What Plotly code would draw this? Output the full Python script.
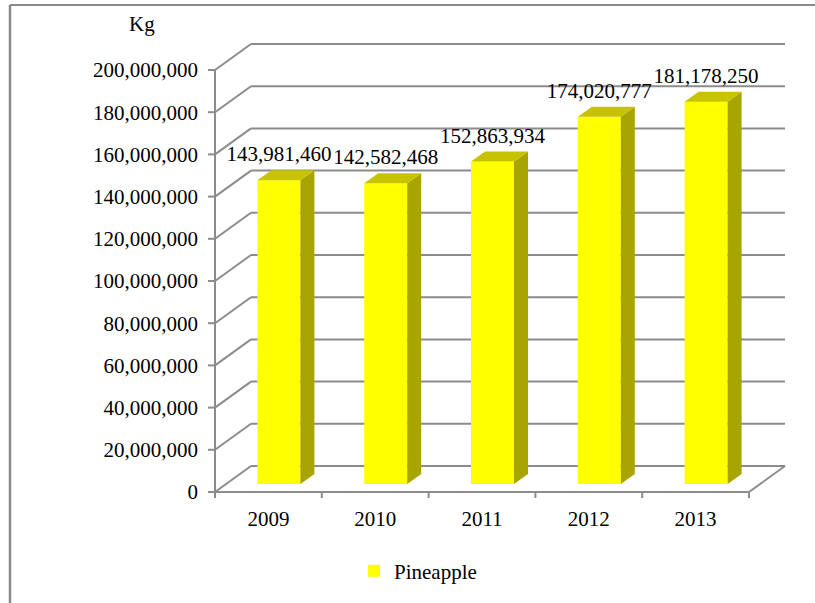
import plotly.graph_objects as go

# ---------------- data ----------------
years = ["2009", "2010", "2011", "2012", "2013"]
values = [143981460, 142582468, 152863934, 174020777, 181178250]
y_ticks = [0, 20000000, 40000000, 60000000, 80000000, 100000000,
           120000000, 140000000, 160000000, 180000000, 200000000]
series_name = "Pineapple"
unit_label = "Kg"

# ---------------- style / geometry ----------------
W, H = 815, 603
FONT = "Liberation Serif, Times New Roman, serif"
FS = 21
FRONT = "#FFFF00"
TOP = "#C8C300"
SIDE = "#A8A400"
GRID = "#8C8C8C"

ML, MR, MT, MB = 207, 25, 30, 105
PX_PER_CAT = 106.8           # px per category unit
PX_PER_VAL = 2.11 / 1e6      # px per value unit
n = len(years)

pw = W - ML - MR
ph = H - MT - MB

X0 = -0.5 - 8 / PX_PER_CAT
X1 = X0 + pw / PX_PER_CAT
Y0 = -6 / PX_PER_VAL
Y1 = Y0 + ph / PX_PER_VAL

# wall depth (perspective offsets)
DX = 36 / PX_PER_CAT
DY = 26 / PX_PER_VAL
# bar placement inside the depth
BAR_SHIFT_X = 10.5 / PX_PER_CAT
BAR_BASE = 8 / PX_PER_VAL
BAR_W = 43 / PX_PER_CAT
BDX = 14 / PX_PER_CAT
BDY = 10 / PX_PER_VAL
LABEL_OFF = 24 / PX_PER_VAL
TICK_X = 7 / PX_PER_CAT
TICK_Y = 6 / PX_PER_VAL


def pxx(px):
    return (px - ML) / pw


def pxy(py):
    return (H - MB - py) / ph


left = -0.5
right = n - 0.5
ymax = y_ticks[-1]

shapes = []
line = dict(color=GRID, width=2)
# gridlines on side wall + back wall
for v in y_ticks:
    shapes.append(dict(type="line", xref="x", yref="y", layer="below",
                       x0=left, y0=v, x1=left + DX, y1=v + DY, line=line))
    shapes.append(dict(type="line", xref="x", yref="y", layer="below",
                       x0=left + DX, y0=v + DY, x1=right + DX, y1=v + DY, line=line))
    # y tick marks
    shapes.append(dict(type="line", xref="x", yref="y", layer="below",
                       x0=left - TICK_X, y0=v, x1=left, y1=v, line=line))
# floor front + right edge
shapes.append(dict(type="line", xref="x", yref="y", layer="below",
                   x0=left, y0=0, x1=right, y1=0, line=line))
shapes.append(dict(type="line", xref="x", yref="y", layer="below",
                   x0=right, y0=0, x1=right + DX, y1=DY, line=line))
# y axis line
shapes.append(dict(type="line", xref="x", yref="y", layer="below",
                   x0=left, y0=-TICK_Y, x1=left, y1=ymax, line=line))
# x tick marks at category boundaries
for i in range(n + 1):
    b = i - 0.5
    shapes.append(dict(type="line", xref="x", yref="y", layer="below",
                       x0=b, y0=0, x1=b, y1=-TICK_Y, line=line))
# outer chart border (left & top)
shapes.append(dict(type="line", xref="paper", yref="paper", layer="below",
                   x0=pxx(10), y0=pxy(5), x1=pxx(10), y1=pxy(H + 2),
                   line=dict(color="#8A8A8A", width=2.5)))
shapes.append(dict(type="line", xref="paper", yref="paper", layer="below",
                   x0=pxx(10), y0=pxy(5), x1=pxx(W + 2), y1=pxy(5),
                   line=dict(color="#8A8A8A", width=2)))

fig = go.Figure()

xc = [i + BAR_SHIFT_X for i in range(n)]
fig.add_trace(go.Bar(
    x=xc, y=values, base=[BAR_BASE] * n, width=BAR_W,
    marker=dict(color=FRONT, line=dict(width=0)),
    name=series_name, showlegend=True, hoverinfo="skip",
))

# side and top faces
for i, v in enumerate(values):
    xl = xc[i] - BAR_W / 2
    xr = xc[i] + BAR_W / 2
    top = BAR_BASE + v
    fig.add_trace(go.Scatter(
        x=[xr, xr + BDX, xr + BDX, xr, xr],
        y=[BAR_BASE, BAR_BASE + BDY, top + BDY, top, BAR_BASE],
        mode="lines", fill="toself", fillcolor=SIDE,
        line=dict(width=0, color=SIDE), showlegend=False, hoverinfo="skip"))
    fig.add_trace(go.Scatter(
        x=[xl, xl + BDX, xr + BDX, xr, xl],
        y=[top, top + BDY, top + BDY, top, top],
        mode="lines", fill="toself", fillcolor=TOP,
        line=dict(width=0, color=TOP), showlegend=False, hoverinfo="skip"))

# data labels
fig.add_trace(go.Scatter(
    x=xc, y=[BAR_BASE + v + LABEL_OFF for v in values],
    mode="text", text=[f"{v:,}" for v in values],
    textposition="middle center",
    textfont=dict(family=FONT, size=FS, color="black"),
    showlegend=False, hoverinfo="skip", cliponaxis=False))

fig.update_layout(
    width=W, height=H,
    margin=dict(l=ML, r=MR, t=MT, b=MB, pad=0),
    paper_bgcolor="white", plot_bgcolor="rgba(0,0,0,0)",
    font=dict(family=FONT, size=FS, color="black"),
    shapes=shapes,
    showlegend=True,
    legend=dict(orientation="h", x=pxx(354), xanchor="left",
                y=pxy(571), yanchor="middle",
                font=dict(family=FONT, size=FS, color="black"),
                bgcolor="rgba(0,0,0,0)"),
    xaxis=dict(range=[X0, X1], tickvals=list(range(n)), ticktext=years,
               ticks="", showgrid=False, zeroline=False, showline=False,
               ticklabelstandoff=6, fixedrange=True),
    yaxis=dict(range=[Y0, Y1], tickvals=y_ticks, tickformat=",",
               ticks="", showgrid=False, zeroline=False, showline=False,
               ticklabelstandoff=8, fixedrange=True),
    annotations=[dict(text=unit_label, xref="paper", yref="paper",
                      x=pxx(142), y=pxy(24), showarrow=False,
                      xanchor="center", yanchor="middle",
                      font=dict(family=FONT, size=FS, color="black"))],
)

fig.write_html("out.html")
